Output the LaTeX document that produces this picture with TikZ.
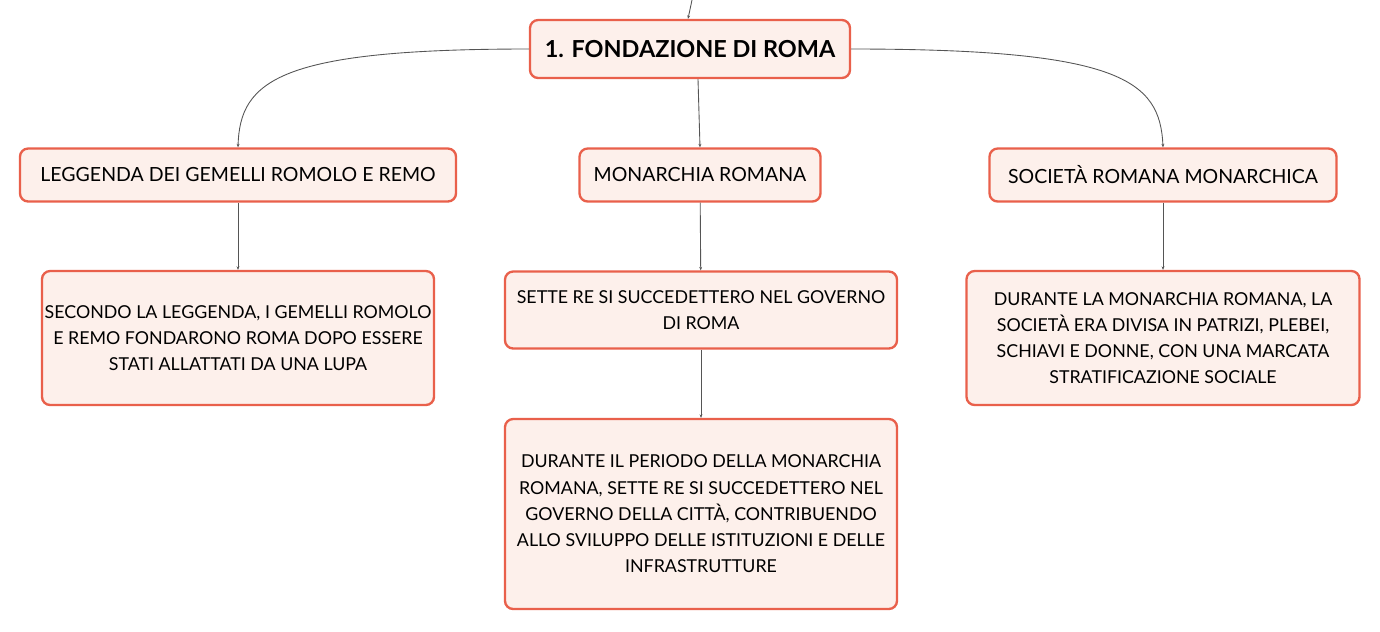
\documentclass[tikz,border=0pt]{standalone}
\usepackage{fontspec}
\setmainfont{Lato}
\usetikzlibrary{arrows.meta}
\definecolor{boxline}{HTML}{E9604B}
\definecolor{boxfill}{HTML}{FDF0EB}
\definecolor{wire}{HTML}{555555}
\tikzset{
  topic/.style={draw=boxline, fill=boxfill, line width=2pt, rounded corners=7pt,
    align=center, inner sep=0pt},
  maintopic/.style={topic, font=\fontsize{20}{24}\selectfont\bfseries},
  subtopic/.style={topic, font=\fontsize{16.65}{22}\selectfont},
  detail/.style={topic, font=\fontsize{15.2}{22.4}\selectfont},
  link/.style={draw=wire, line width=0.75pt, -{Stealth[length=3pt,width=2.5pt]}}
}
\begin{document}
\begin{tikzpicture}[x=0.03cm, y=-0.03cm]
    \useasboundingbox (0,0) rectangle (1380,631);
    % main topic
    \coordinate (in) at (692,0);
    \node[maintopic, minimum width=9.6cm, minimum height=1.74cm] (roma) at (690,49) {1. FONDAZIONE DI ROMA};
    % first level
    \node[subtopic, minimum width=13.08cm, minimum height=1.59cm] (leggenda) at (238,175) {LEGGENDA DEI GEMELLI ROMOLO E REMO};
    \node[subtopic, minimum width=7.23cm, minimum height=1.59cm] (monarchia) at (700,175) {MONARCHIA ROMANA};
    \node[subtopic, minimum width=10.41cm, minimum height=1.59cm] (societa) at (1163,175) {SOCIETÀ ROMANA MONARCHICA};
    % details
    \node[detail, minimum width=11.76cm, minimum height=4.02cm] (lupa) at (238,338)
        {SECONDO LA LEGGENDA, I GEMELLI ROMOLO\\E REMO FONDARONO ROMA DOPO ESSERE\\STATI ALLATTATI DA UNA LUPA};
    \node[detail, minimum width=11.76cm, minimum height=2.31cm] (settere) at (701,310)
        {SETTE RE SI SUCCEDETTERO NEL GOVERNO\\DI ROMA};
    \node[detail, minimum width=11.76cm, minimum height=5.7cm] (periodo) at (701,514)
        {DURANTE IL PERIODO DELLA MONARCHIA\\ROMANA, SETTE RE SI SUCCEDETTERO NEL\\GOVERNO DELLA CITTÀ, CONTRIBUENDO\\ALLO SVILUPPO DELLE ISTITUZIONI E DELLE\\INFRASTRUTTURE};
    \node[detail, minimum width=11.79cm, minimum height=4.02cm] (classi) at (1163,338)
        {DURANTE LA MONARCHIA ROMANA, LA\\SOCIETÀ ERA DIVISA IN PATRIZI, PLEBEI,\\SCHIAVI E DONNE, CON UNA MARCATA\\STRATIFICAZIONE SOCIALE};
    % connectors
    \path[link] (in) -- (roma.north -| 688,0);
    \path[link] (roma.west) .. controls (280,49) and (240,80) .. (leggenda.north);
    \path[link] (roma.south -| 698,0) -- (monarchia.north);
    \path[link] (roma.east) .. controls (1120,49) and (1160,80) .. (societa.north);
    \path[link] (leggenda) -- (lupa);
    \path[link] (monarchia) -- (settere);
    \path[link] (settere) -- (periodo);
    \path[link] (societa) -- (classi);
\end{tikzpicture}
\end{document}
